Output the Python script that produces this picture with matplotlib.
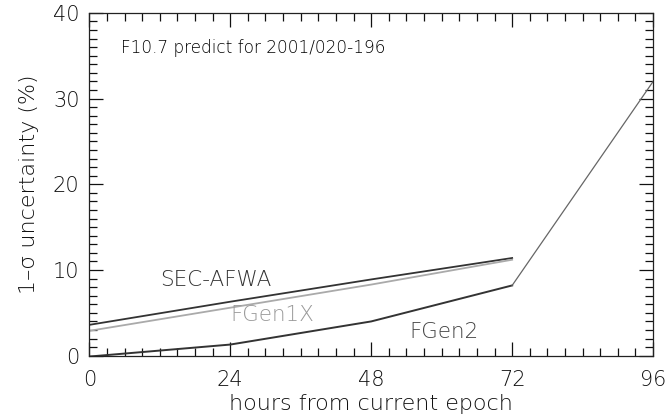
import numpy as np
import matplotlib.pyplot as plt
from matplotlib.ticker import MultipleLocator

# hours from current epoch
hours = [0, 24, 48, 72]
hours_fgen2 = [0, 24, 48, 72, 96]

# 1-sigma uncertainty (%)
sec_afwa = [3.6, 6.3, 8.9, 11.4]
fgen1x = [2.9, 5.6, 8.3, 11.2]
fgen2 = [-0.1, 1.3, 4.0, 8.2, 32.0]

plt.rcParams['font.family'] = ['DejaVu Sans']
plt.rcParams['font.weight'] = 'light'
plt.rcParams['axes.labelweight'] = 'light'

fig = plt.figure(figsize=(6.68, 4.17), dpi=100)
ax = fig.add_axes([0.1337, 0.147, 0.844, 0.822])

ax.plot(hours, sec_afwa, color='#333333', linewidth=1.3)
ax.plot(hours, fgen1x, color='#aaaaaa', linewidth=1.3)
ax.plot(hours_fgen2[:4], fgen2[:4], color='#333333', linewidth=1.4)
ax.plot(hours_fgen2[3:], fgen2[3:], color='#666666', linewidth=0.9)

# line labels
ax.text(12.0, 8.8, 'SEC-AFWA', color='#333333', fontsize=15.5, va='center')
ax.text(24.0, 4.8, 'FGen1X', color='#999999', fontsize=15.5, va='center')
ax.text(54.5, 2.8, 'FGen2', color='#444444', fontsize=15.5, va='center')
ax.text(5.4, 35.9, 'F10.7 predict for 2001/020-196', color='#000000',
        fontsize=12.2, va='center')

ax.set_xlim(0, 96)
ax.set_ylim(0, 40)
ax.xaxis.set_major_locator(MultipleLocator(24))
ax.xaxis.set_minor_locator(MultipleLocator(3))
ax.yaxis.set_major_locator(MultipleLocator(10))
ax.yaxis.set_minor_locator(MultipleLocator(1))
ax.tick_params(which='both', direction='in', top=True, right=True,
               colors='#111111', labelsize=15, width=0.9)
ax.tick_params(which='major', length=10)
ax.tick_params(which='minor', length=5.5)
ax.tick_params(axis='x', pad=10)
ax.tick_params(axis='y', pad=7)
for s in ax.spines.values():
    s.set_linewidth(0.9)
    s.set_color('#222222')

ax.set_xlabel('hours from current epoch', fontsize=16, color='#111111', labelpad=3)
ax.set_ylabel('1\u2013\u03c3 uncertainty (%)', fontsize=16, color='#111111', labelpad=10)

fig.savefig('out.png', dpi=100)
